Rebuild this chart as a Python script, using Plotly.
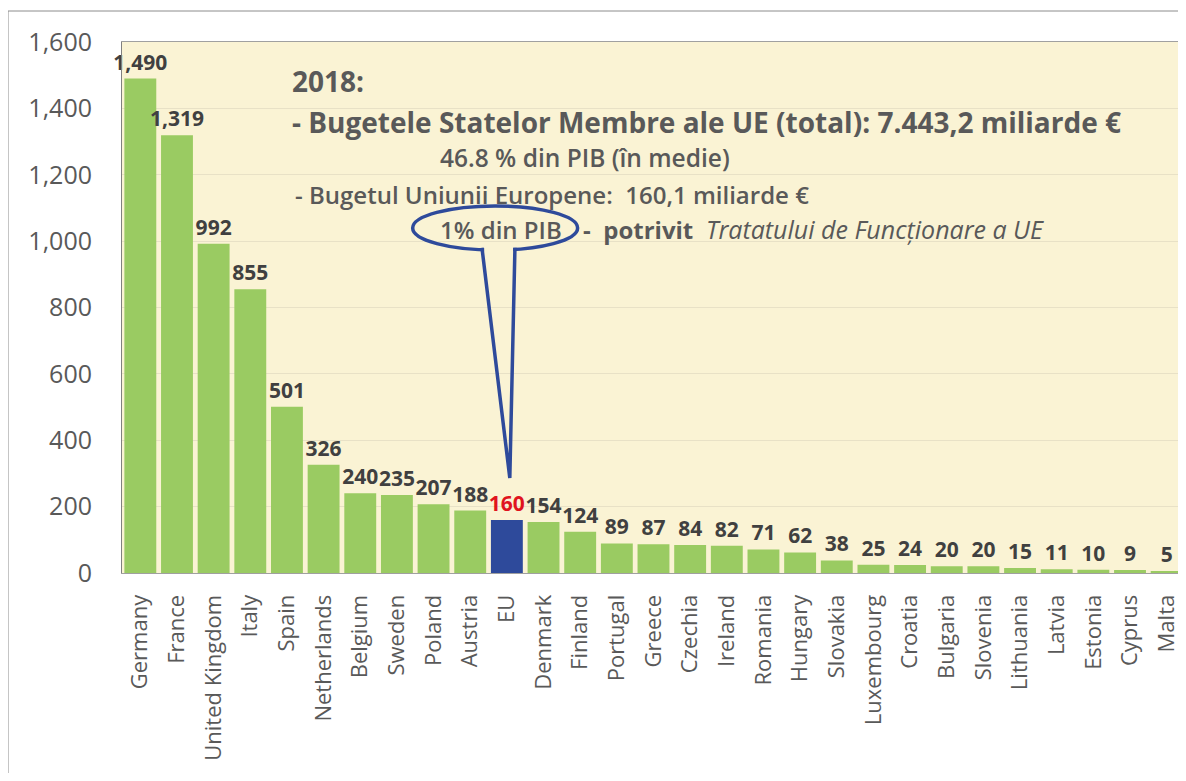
import plotly.graph_objects as go

countries = ['Germany', 'France', 'United Kingdom', 'Italy', 'Spain', 'Netherlands',
             'Belgium', 'Sweden', 'Poland', 'Austria', 'EU', 'Denmark', 'Finland',
             'Portugal', 'Greece', 'Czechia', 'Ireland', 'Romania', 'Hungary',
             'Slovakia', 'Luxembourg', 'Croatia', 'Bulgaria', 'Slovenia', 'Lithuania',
             'Latvia', 'Estonia', 'Cyprus', 'Malta']
budgets = [1490, 1319, 992, 855, 501, 326, 240, 235, 207, 188, 160, 154, 124,
           89, 87, 84, 82, 71, 62, 38, 25, 24, 20, 20, 15, 11, 10, 9, 5]
y_ticks = [0, 200, 400, 600, 800, 1000, 1200, 1400, 1600]

GREEN = '#9ACB62'
BLUE = '#2E4A9B'
BG = '#FAF3D4'
FONT = 'Open Sans'

bar_colors = [BLUE if c == 'EU' else GREEN for c in countries]
label_colors = ['#E0141E' if c == 'EU' else '#404040' for c in countries]
labels = [f'{v:,}' for v in budgets]

fig = go.Figure(go.Bar(
    x=countries, y=budgets,
    marker=dict(color=bar_colors, line_width=0),
    text=labels, textposition='outside', cliponaxis=False,
    constraintext='none',
    textfont=dict(family=FONT, size=21, color=label_colors, weight='bold'),
    hoverinfo='x+y'))

# the page has an 8px body margin, so the figure is sized/offset for that
fig.update_layout(
    width=1178, height=765,
    margin=dict(l=114, r=1, t=34, b=200),
    paper_bgcolor='white', plot_bgcolor=BG,
    bargap=0.13, showlegend=False,
    font=dict(family=FONT, color='#595959'))

fig.update_xaxes(tickangle=-90, tickfont=dict(size=22, color='#595959'),
                 showline=True, linecolor='#A0A0A0', linewidth=1, mirror=True,
                 ticks='', ticklabelstandoff=12)
fig.update_yaxes(range=[0, 1600], tickvals=y_ticks, tickformat=',',
                 tickfont=dict(size=25, color='#595959'),
                 showgrid=True, gridcolor='#E8E1C6', gridwidth=1,
                 showline=True, linecolor='#808080', linewidth=1, mirror=True,
                 zeroline=False, ticks='', ticklabelstandoff=24)


def px(x, y):
    # screen pixel position -> paper coords
    return (x - 122) / 1063, (573 - y) / 531


def note(text, x, y, size, weight='normal', italic=False):
    xp, yp = px(x, y)
    fig.add_annotation(text=text, x=xp, y=yp, xref='paper', yref='paper',
                       xanchor='left', yanchor='middle', showarrow=False,
                       font=dict(family=FONT, size=size, color='#595959',
                                 weight=weight,
                                 style='italic' if italic else 'normal'))


note('2018:', 290, 81, 28, weight='bold')
note('- Bugetele Statelor Membre ale UE (total): 7.443,2 miliarde €', 290, 122, 28, weight='bold')
note('46.8 % din PIB (în medie)', 438, 158, 24.5, weight=600)
note('- Bugetul Uniunii Europene:  160,1 miliarde €', 293, 194, 24, weight=600)
note('1% din PIB', 438, 229, 24, weight=600)
note('-  potrivit', 581, 229, 24, weight='bold')
note('Tratatului de Funcționare a UE', 704, 229, 25, italic=True)

# callout bubble around "1% din PIB" pointing to the EU bar
fig.add_shape(type='circle', xref='x', yref='y', x0=7.43, x1=11.93, y0=973, y1=1106,
              line=dict(color=BLUE, width=3.5), fillcolor='rgba(0,0,0,0)')
fig.add_shape(type='rect', xref='x', yref='y', x0=9.38, x1=10.17, y0=955, y1=995,
              line_width=0, fillcolor=BG)
fig.add_shape(type='path', xref='x', yref='y',
              path='M 9.32,980 L 10.08,286 L 10.22,980',
              line=dict(color=BLUE, width=3.5), fillcolor='rgba(0,0,0,0)')

# outer frame
fig.add_shape(type='rect', xref='paper', yref='paper',
              x0=-114 / 1063, x1=1.05, y0=-0.5, y1=(565 - 3) / 531,
              line=dict(color='#8C8C8C', width=1), fillcolor='rgba(0,0,0,0)', layer='below')

fig.write_html('out.html')
